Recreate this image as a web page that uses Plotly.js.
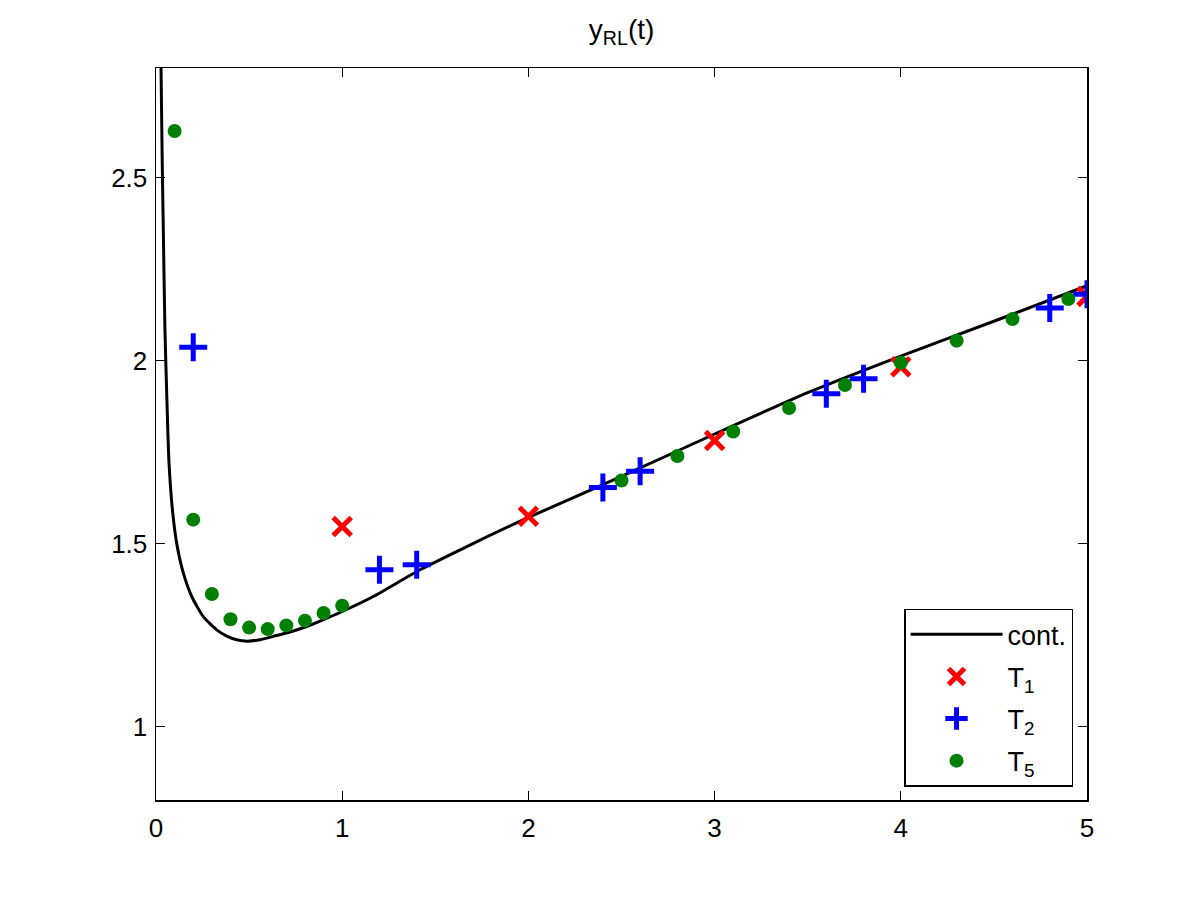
<!DOCTYPE html>
<html>
<head>
<meta charset="utf-8">
<script src="https://cdn.plot.ly/plotly-3.0.1.min.js"></script>
<style>
  html, body { margin: 0; padding: 0; background: #fff; }
  #plot { width: 1200px; height: 903px; }
</style>
</head>
<body>
<div id="plot"></div>
<script>
// continuous solution
var tCont = [0.027, 0.033, 0.039, 0.048, 0.057, 0.07, 0.09, 0.114, 0.147, 0.192, 0.254, 0.326, 0.38, 0.433, 0.49, 0.559, 0.63, 0.72, 0.809, 0.9, 1.0, 1.167, 1.418, 1.7, 2.0, 2.5, 3.0, 3.5, 4.0, 4.5, 5.0];
var yCont = [2.80, 2.56, 2.367, 2.085, 1.92, 1.72, 1.584, 1.493, 1.420, 1.356, 1.301, 1.265, 1.248, 1.238, 1.234, 1.238, 1.247, 1.259, 1.274, 1.293, 1.315, 1.356, 1.429, 1.500, 1.572, 1.684, 1.800, 1.913, 2.013, 2.108, 2.205];

// T1
var t1 = [1, 2, 3, 4, 5];
var y1 = [1.547, 1.575, 1.782, 1.984, 2.176];

// T2
var t2 = [0.2, 1.2, 1.4, 2.4, 2.6, 3.6, 3.8, 4.8, 5.0];
var y2 = [2.037, 1.429, 1.443, 1.654, 1.698, 1.910, 1.951, 2.144, 2.182];

// T5
var t5 = [0.1, 0.2, 0.3, 0.4, 0.5, 0.6, 0.7, 0.8, 0.9, 1.0, 2.5, 2.8, 3.1, 3.4, 3.7, 4.0, 4.3, 4.6, 4.9];
var y5 = [2.628, 1.566, 1.363, 1.294, 1.271, 1.267, 1.277, 1.290, 1.311, 1.331, 1.673, 1.740, 1.807, 1.871, 1.934, 1.995, 2.055, 2.114, 2.169];

var xTicks = [0, 1, 2, 3, 4, 5];
var yTicks = [1, 1.5, 2, 2.5];

var data = [
  {
    x: tCont, y: yCont, name: 'cont.', type: 'scatter', mode: 'lines', legendgroup: 'a',
    line: { color: 'black', width: 3, shape: 'spline', smoothing: 0.6 }
  },
  {
    x: t1, y: y1, name: 'T<sub>1</sub>', type: 'scatter', mode: 'markers', legendgroup: 'b',
    marker: { symbol: 'x-thin', size: 18, color: '#ff0000', line: { color: '#ff0000', width: 5 } }
  },
  {
    x: t2, y: y2, name: 'T<sub>2</sub>', type: 'scatter', mode: 'markers', legendgroup: 'c',
    marker: { symbol: 'cross-thin', size: 20, color: '#0000ff', line: { color: '#0000ff', width: 5 } }
  },
  {
    x: t5, y: y5, name: 'T<sub>5</sub>', type: 'scatter', mode: 'markers', legendgroup: 'd',
    marker: { symbol: 'circle', size: 14, color: '#008000' }
  }
];

var axisCommon = {
  showline: true, mirror: 'ticks', linecolor: 'black', linewidth: 1.5,
  ticks: 'inside', ticklen: 9, tickwidth: 1, tickcolor: 'black',
  showgrid: false, zeroline: false,
  tickfont: { family: 'Liberation Sans, Arial, sans-serif', size: 26, color: 'black' }
};

var layout = {
  width: 1200, height: 903,
  paper_bgcolor: 'white', plot_bgcolor: 'white',
  margin: { l: 156, r: 113, t: 68, b: 103 },
  font: { family: 'Liberation Sans, Arial, sans-serif', color: 'black' },
  title: { text: 'y<sub>RL</sub>(t)', x: 0.518, xanchor: 'center', y: 0.968, yanchor: 'middle',
           font: { size: 28, color: 'black' } },
  xaxis: Object.assign({}, axisCommon, { range: [0, 5], tickvals: xTicks, ticklabelstandoff: 4 }),
  yaxis: Object.assign({}, axisCommon, { range: [0.8, 2.8], tickvals: yTicks, ticklabelstandoff: 2 }),
  showlegend: true,
  legend: {
    x: 0.985, y: 0.018, xanchor: 'right', yanchor: 'bottom',
    bordercolor: 'black', borderwidth: 1.5, bgcolor: 'white',
    font: { size: 27, color: 'black' }, tracegroupgap: 4, itemwidth: 92
  }
};

Plotly.newPlot('plot', data, layout, { displayModeBar: false, staticPlot: true });
</script>
</body>
</html>
